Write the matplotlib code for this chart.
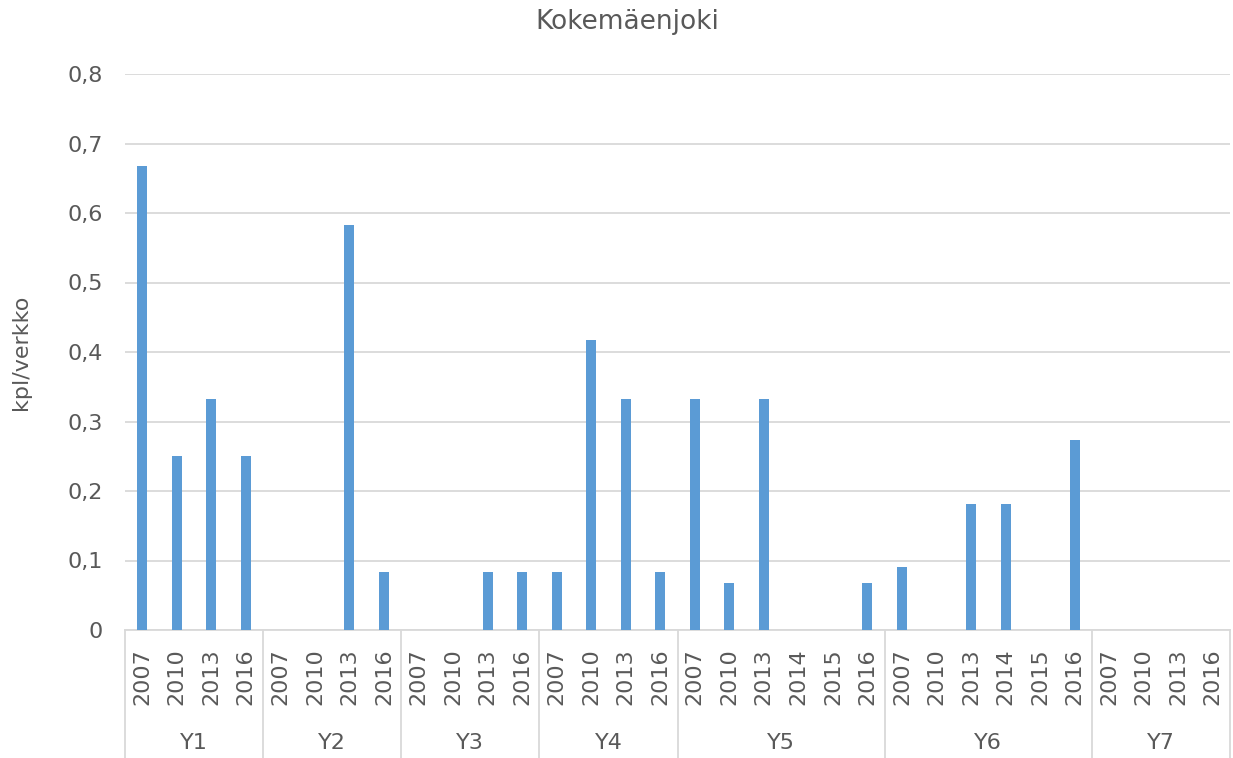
import matplotlib
matplotlib.use("Agg")
from matplotlib import pyplot as plt
import matplotlib.transforms as mtransforms
import numpy as np

# --- data ---
groups = ["Y1", "Y2", "Y3", "Y4", "Y5", "Y6", "Y7"]
group_years = [
    ["2007", "2010", "2013", "2016"],
    ["2007", "2010", "2013", "2016"],
    ["2007", "2010", "2013", "2016"],
    ["2007", "2010", "2013", "2016"],
    ["2007", "2010", "2013", "2014", "2015", "2016"],
    ["2007", "2010", "2013", "2014", "2015", "2016"],
    ["2007", "2010", "2013", "2016"],
]
y1 = [0.667, 0.25, 0.333, 0.25]
y2 = [0, 0, 0.583, 0.083]
y3 = [0, 0, 0.083, 0.083]
y4 = [0.083, 0.417, 0.333, 0.083]
y5 = [0.333, 0.067, 0.333, 0, 0, 0.067]
y6 = [0.091, 0, 0.182, 0.182, 0, 0.273]
y7 = [0, 0, 0, 0]
yticks = [0, 0.1, 0.2, 0.3, 0.4, 0.5, 0.6, 0.7, 0.8]

values = y1 + y2 + y3 + y4 + y5 + y6 + y7
years = [y for g in group_years for y in g]

TXT = "#595959"
BAR = "#5B9BD5"
GRID = "#D9D9D9"

plt.rcParams['font.family'] = ['DejaVu Sans']

fig = plt.figure(figsize=(12.33, 7.58), dpi=100)
ax = fig.add_axes([125 / 1233, 1 - 630 / 758, (1230 - 125) / 1233, (630 - 74) / 758])

x = np.arange(len(values))
ax.bar(x, values, width=0.29, color=BAR, zorder=3)

ax.set_xlim(-0.5, len(values) - 0.5)
ax.set_ylim(0, 0.8)
ax.set_yticks(yticks)
ax.set_yticklabels([("%g" % t).replace(".", ",") for t in yticks], fontsize=16, color=TXT)
ax.yaxis.grid(True, color=GRID, linewidth=1.3, zorder=0)
ax.tick_params(axis='y', length=0, pad=16)

ax.set_xticks(x)
ax.set_xticklabels(years, rotation=90, fontsize=16, color=TXT)
ax.tick_params(axis='x', length=0, pad=13)

for s in ["top", "right", "left"]:
    ax.spines[s].set_visible(False)
ax.spines["bottom"].set_color(GRID)
ax.spines["bottom"].set_linewidth(1.3)

# group labels and separators
trans = mtransforms.blended_transform_factory(ax.transData, ax.transAxes)
start = 0
bounds = [-0.5]
for name, yrs in zip(groups, group_years):
    n = len(yrs)
    center = start + (n - 1) / 2
    ax.text(center, -0.203, name, transform=trans, ha='center', va='center',
            fontsize=16, color=TXT)
    start += n
    bounds.append(start - 0.5)
for b in bounds:
    ax.plot([b, b], [0, -0.235], transform=trans, color=GRID, linewidth=1.3,
            clip_on=False)

ax.set_ylabel("kpl/verkko", fontsize=16, color=TXT, labelpad=26)
fig.text(627 / 1233, 1 - 22 / 758, "Kokemäenjoki", ha='center', va='center',
         fontsize=19, color=TXT)

fig.savefig("out.png", dpi=100)
